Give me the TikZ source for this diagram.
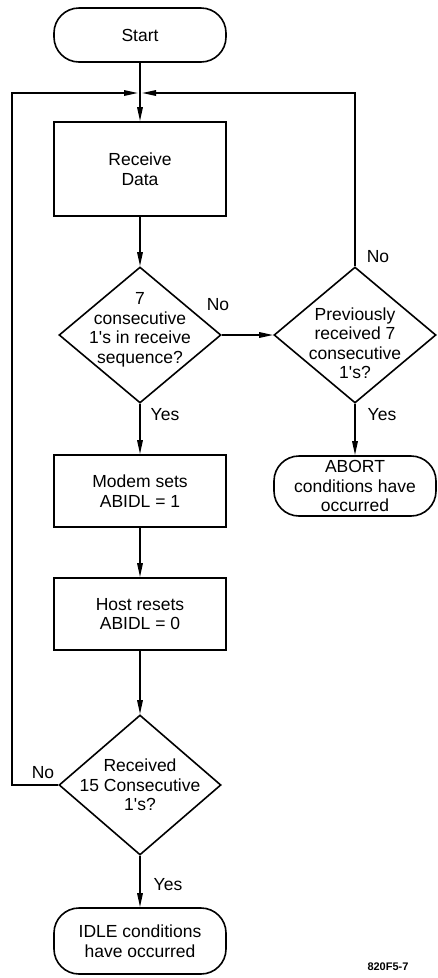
\documentclass[tikz,border=0pt]{standalone}
\usepackage{fontspec}
\setmainfont{Liberation Sans}
\usetikzlibrary{shapes.geometric,arrows.meta}
\begin{document}
\begin{tikzpicture}[x=1pt,y=-1pt, line width=1.6pt,
  every node/.style={font=\fontsize{17.5}{19.5}\selectfont},
  proc/.style={draw, rectangle, minimum width=172pt, align=center, inner sep=0pt},
  term/.style={draw, rectangle, rounded corners=25pt, align=center, inner sep=0pt},
  dec/.style={draw, diamond, minimum width=162pt, minimum height=136pt, inner sep=0pt},
  arr/.style={-{Triangle[length=14pt,width=5.5pt]}},
  lbl/.style={inner sep=0pt},
  dtxt/.style={align=center, inner sep=0pt}]
\useasboundingbox (0,0) rectangle (437,978);

\node[term, minimum width=172pt, minimum height=54pt] (start) at (140,35) {Start};
\node[proc, minimum height=94pt] (recv) at (140,169) {Receive\\Data};
\node[dec, label={[dtxt, yshift=5pt]center:7\\consecutive\\1\textquotesingle s in receive\\sequence?}] (d1) at (140,335) {};
\node[dec, label={[dtxt, yshift=-8pt]center:Previously\\received 7\\consecutive\\1\textquotesingle s?}] (d2) at (355,335) {};
\node[term, minimum width=162pt, minimum height=60pt] (abort) at (355,486) {ABORT\\conditions have\\occurred};
\node[proc, minimum height=72pt] (modem) at (140,491) {Modem sets\\ABIDL = 1};
\node[proc, minimum height=72pt] (host) at (140,614) {Host resets\\ABIDL = 0};
\node[dec, minimum height=140pt, label={[dtxt]center:Received\\15 Consecutive\\1\textquotesingle s?}] (d3) at (140,785) {};
\node[term, minimum width=172pt, minimum height=66pt] (idle) at (140,941) {IDLE conditions\\have occurred};

\coordinate (j) at (140,93);
\coordinate (ll) at (12,93);

\draw[arr] (start) -- (recv);
\draw[arr] (recv) -- (d1);
\draw[arr] (d1) -- (d2);
\draw[arr] (d2) -- (abort);
\draw[arr] (d1) -- (modem);
\draw[arr] (modem) -- (host);
\draw[arr] (host) -- (d3);
\draw[arr] (d3) -- (idle);
\draw[arr] (d3.west) -- (d3.west -| ll) -- (ll) -- ([xshift=-2pt]j);
\draw[arr] (d2.north) -- (d2.north |- j) -- ([xshift=2pt]j);

\node[lbl] (n1) at (218,305) {No};
\node[lbl] (n2) at (378,257) {No};
\node[lbl] (y2) at (382,415) {Yes};
\node[lbl] (y1) at (165,415) {Yes};
\node[lbl] (n3) at (43,773) {No};
\node[lbl] (y3) at (168,885) {Yes};
\node[lbl, font=\fontsize{11}{13}\selectfont\bfseries] (fig) at (388,967) {820F5-7};
\end{tikzpicture}
\end{document}
